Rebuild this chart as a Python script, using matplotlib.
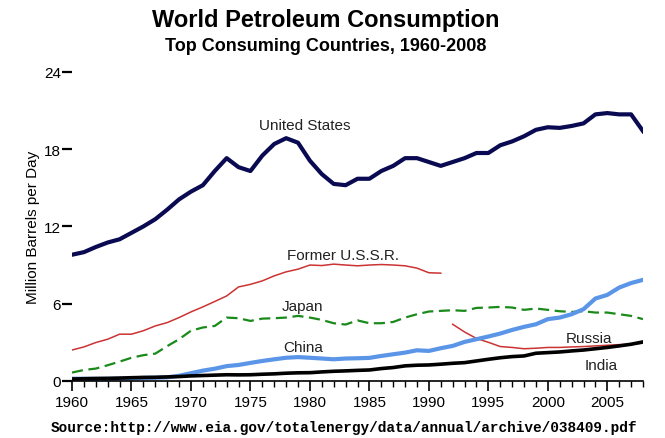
import matplotlib

matplotlib.use('Agg')

import matplotlib.pyplot as plt
from matplotlib.ticker import MultipleLocator

years = list(range(1960, 2009))

us = [9.8, 10.0, 10.4, 10.75, 11.0, 11.5, 12.0, 12.56, 13.3, 14.1,
      14.7, 15.2, 16.3, 17.3, 16.6, 16.3, 17.5, 18.4, 18.85, 18.5,
      17.1, 16.06, 15.3, 15.2, 15.7, 15.7, 16.3, 16.7, 17.3, 17.3,
      17.0, 16.7, 17.0, 17.3, 17.7, 17.7, 18.3, 18.6, 19.0, 19.5,
      19.7, 19.65, 19.8, 20.0, 20.7, 20.8, 20.7, 20.7, 19.4]

ussr_years = list(range(1960, 1992))
ussr = [2.4, 2.64, 2.98, 3.24, 3.63, 3.63, 3.9, 4.27, 4.53, 4.92,
        5.36, 5.75, 6.17, 6.6, 7.3, 7.5, 7.77, 8.16, 8.47, 8.68,
        9.0, 8.96, 9.07, 9.0, 8.94, 9.0, 9.04, 9.0, 8.94, 8.76,
        8.4, 8.37]

japan = [0.65, 0.85, 0.96, 1.22, 1.5, 1.8, 2.0, 2.12, 2.7, 3.24,
         3.9, 4.15, 4.27, 4.92, 4.87, 4.66, 4.84, 4.87, 4.92, 5.05,
         4.92, 4.74, 4.48, 4.38, 4.7, 4.48, 4.48, 4.58, 4.92, 5.18,
         5.39, 5.44, 5.49, 5.44, 5.67, 5.7, 5.75, 5.7, 5.52, 5.62,
         5.52, 5.41, 5.36, 5.41, 5.31, 5.31, 5.18, 5.05, 4.8]

china = [0.17, 0.17, 0.16, 0.16, 0.18, 0.2, 0.24, 0.25, 0.28, 0.4,
         0.6, 0.8, 0.95, 1.15, 1.24, 1.4, 1.55, 1.68, 1.8, 1.85,
         1.8, 1.74, 1.68, 1.74, 1.76, 1.79, 1.94, 2.07, 2.2, 2.38,
         2.33, 2.54, 2.72, 3.03, 3.24, 3.45, 3.68, 3.96, 4.2, 4.4,
         4.8, 4.92, 5.18, 5.57, 6.4, 6.68, 7.25, 7.6, 7.85]

india = [0.15, 0.17, 0.19, 0.2, 0.22, 0.25, 0.27, 0.28, 0.31, 0.34,
         0.39, 0.42, 0.45, 0.48, 0.47, 0.48, 0.52, 0.55, 0.6, 0.63,
         0.64, 0.7, 0.75, 0.78, 0.82, 0.85, 0.96, 1.04, 1.17, 1.22,
         1.24, 1.3, 1.37, 1.42, 1.55, 1.68, 1.8, 1.89, 1.94, 2.15,
         2.2, 2.25, 2.33, 2.4, 2.5, 2.6, 2.72, 2.85, 3.03]

russia_years = list(range(1992, 2009))
russia = [4.4, 3.8, 3.3, 3.0, 2.67, 2.6, 2.5, 2.54, 2.6, 2.6,
          2.64, 2.67, 2.72, 2.77, 2.82, 2.85, 2.93]

plt.rcParams['font.family'] = ['Liberation Sans', 'DejaVu Sans']

fig = plt.figure(figsize=(6.65, 4.39), dpi=100)
ax = fig.add_axes([0.1083, 0.130, 0.8586, 0.704])

ax.plot(ussr_years, ussr, color='#cc3333', lw=1.1)
ax.plot(russia_years, russia, color='#cc3333', lw=1.1)
ax.plot(years, japan, color='#1a8a1a', lw=1.6, dashes=(5, 2.5))
ax.plot(years, china, color='#5b95e8', lw=3.0)
ax.plot(years, india, color='black', lw=2.6)
ax.plot(years, us, color='#0a0a52', lw=3.0)

ax.text(1979.6, 19.6, 'United States', fontsize=11, ha='center', color='#222')
ax.text(1982.8, 9.5, 'Former U.S.S.R.', fontsize=11, ha='center', color='#222')
ax.text(1979.4, 5.5, 'Japan', fontsize=11, ha='center', color='#222')
ax.text(1979.4, 2.3, 'China', fontsize=11, ha='center', color='#222')
ax.text(2003.5, 3.0, 'Russia', fontsize=11, ha='center', color='#222')
ax.text(2004.45, 0.9, 'India', fontsize=11, ha='center', color='#222')

ax.set_xlim(1960, 2008)
ax.set_ylim(0, 24)
for side in ['top', 'right', 'left']:
    ax.spines[side].set_visible(False)
ax.spines['bottom'].set_linewidth(1.2)

ax.xaxis.set_major_locator(MultipleLocator(5))
ax.xaxis.set_minor_locator(MultipleLocator(1))
ax.set_yticks([0, 6, 12, 18, 24])
ax.tick_params(axis='x', which='major', length=7, width=1.2, labelsize=11, pad=3)
ax.tick_params(axis='x', which='minor', length=4, width=1.0)
ax.tick_params(axis='y', length=7, width=1.6, labelsize=11, pad=1)

ax.set_ylabel('Million Barrels per Day', fontsize=11, labelpad=3)

fig.text(0.49, 0.954, 'World Petroleum Consumption', fontsize=17,
         fontweight='bold', ha='center', va='center')
fig.text(0.49, 0.893, 'Top Consuming Countries, 1960-2008', fontsize=13,
         fontweight='bold', ha='center', va='center')
fig.text(0.077, 0.025, 'Source:http://www.eia.gov/totalenergy/data/annual/archive/038409.pdf',
         fontsize=10.35, family='Liberation Mono', fontweight='bold', ha='left', va='center')

fig.savefig('out.png', dpi=100)
